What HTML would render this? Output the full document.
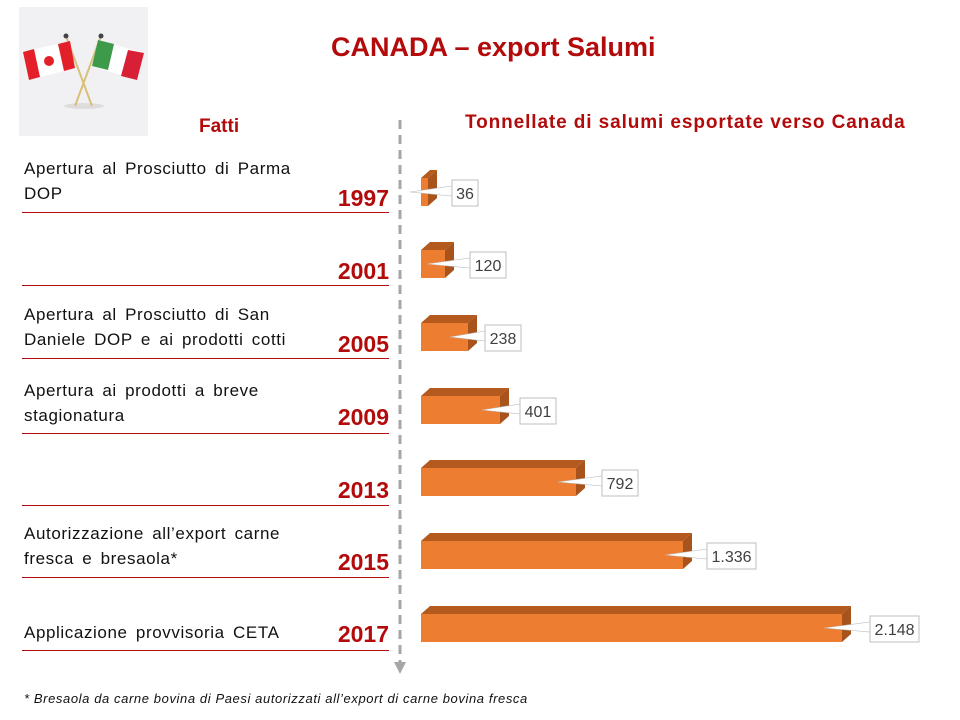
<!DOCTYPE html>
<html><head><meta charset="utf-8"><style>
body{margin:0;width:960px;height:720px;background:#fff;position:relative;overflow:hidden;font-family:"Liberation Sans",sans-serif}
.a{position:absolute;white-space:nowrap}
.t{font-size:17px;color:#111;line-height:25px;letter-spacing:0.6px;word-spacing:3px}
.y{font-size:23px;font-weight:bold;color:#b30b0b;text-align:right;width:100px;left:289px}
.ln{position:absolute;left:22px;width:367px;height:1px;background:#b30b0b}
</style></head><body>
<svg class="a" style="left:0;top:0" width="960" height="720">
<rect x="19" y="7" width="129" height="129" fill="#f1f1f3"/>
<ellipse cx="84" cy="106" rx="20" ry="3" fill="#ddd"/>
<line x1="66" y1="36" x2="92" y2="106" stroke="#d8c07a" stroke-width="2"/>
<line x1="101" y1="36" x2="75" y2="106" stroke="#d8c07a" stroke-width="2"/>
<circle cx="66" cy="36" r="2.5" fill="#444"/><circle cx="101" cy="36" r="2.5" fill="#444"/>
<polygon points="23,52 70,41 75,68 29,80" fill="#fff"/>
<polygon points="23,52 34,49 40,77 29,80" fill="#e3202a"/>
<polygon points="58,44 70,41 75,68 64,71" fill="#e3202a"/>
<circle cx="49" cy="61" r="5" fill="#e3202a"/>
<polygon points="92,66 98,40 144,53 137,80" fill="#fff"/>
<polygon points="92,66 98,40 114,44 108,70" fill="#3c9a4a"/>
<polygon points="128,50 144,53 137,80 121,76" fill="#d81f36"/>
<line x1="400" y1="120" x2="400" y2="662" stroke="#a6a6a6" stroke-width="3" stroke-dasharray="9,6"/>
<polygon points="394,662 406,662 400,674" fill="#a6a6a6"/>
<g id="bars"></g>
</svg>
<div class="a" style="left:331px;top:32px;font-size:27px;font-weight:bold;color:#b30b0b">CANADA – export Salumi</div>
<div class="a" style="left:199px;top:116px;font-size:19px;font-weight:bold;color:#b30b0b">Fatti</div>
<div class="a" style="left:465px;top:112px;font-size:19px;font-weight:bold;color:#b30b0b;letter-spacing:0.9px">Tonnellate di salumi esportate verso Canada</div>
<div class="a t" style="left:24px;top:156px">Apertura al Prosciutto di Parma<br>DOP</div>
<div class="a t" style="left:24px;top:302px">Apertura al Prosciutto di San<br>Daniele DOP e ai prodotti cotti</div>
<div class="a t" style="left:24px;top:378px">Apertura ai prodotti a breve<br>stagionatura</div>
<div class="a t" style="left:24px;top:521px">Autorizzazione all’export carne<br>fresca e bresaola*</div>
<div class="a t" style="left:24px;top:620px">Applicazione provvisoria CETA</div>
<div class="a y" style="top:185px">1997</div><div class="ln" style="top:212px"></div>
<div class="a y" style="top:258px">2001</div><div class="ln" style="top:285px"></div>
<div class="a y" style="top:331px">2005</div><div class="ln" style="top:358px"></div>
<div class="a y" style="top:404px">2009</div><div class="ln" style="top:433px"></div>
<div class="a y" style="top:477px">2013</div><div class="ln" style="top:505px"></div>
<div class="a y" style="top:549px">2015</div><div class="ln" style="top:577px"></div>
<div class="a y" style="top:621px">2017</div><div class="ln" style="top:650px"></div>
<div class="a" style="left:24px;top:691px;font-size:13px;font-style:italic;color:#111;letter-spacing:0.6px">* Bresaola da carne bovina di Paesi autorizzati all’export di carne bovina fresca</div>
<script>
var d=[[7,178,"36",452,26],[24,250,"120",470,36],[47,323,"238",485,36],[79,396,"401",520,36],[155,468,"792",602,36],[262,541,"1.336",707,49],[421,614,"2.148",870,49]];
var s='';
d.forEach(function(b){var x=421,y=b[1],w=b[0],h=28,dx=9,dy=8;
s+='<polygon points="'+x+','+y+' '+(x+dx)+','+(y-dy)+' '+(x+w+dx)+','+(y-dy)+' '+(x+w)+','+y+'" fill="#b45a1e"/>';
s+='<polygon points="'+(x+w)+','+y+' '+(x+w+dx)+','+(y-dy)+' '+(x+w+dx)+','+(y+h-dy)+' '+(x+w)+','+(y+h)+'" fill="#a8531c"/>';
s+='<rect x="'+x+'" y="'+y+'" width="'+w+'" height="'+h+'" fill="#ed7d31"/>';
var bx=b[3],by=y+2,cy=y+h/2;
s+='<polygon points="'+(x+w-18)+','+cy+' '+bx+','+(by+6)+' '+bx+','+(by+16)+'" fill="#fff" stroke="#bbb" stroke-width="0.6"/>';
s+='<rect x="'+bx+'" y="'+by+'" width="'+b[4]+'" height="26" fill="#fff" stroke="#bfbfbf"/>';
s+='<text x="'+(bx+b[4]/2)+'" y="'+(by+19)+'" font-size="16" fill="#404040" text-anchor="middle" font-family="Liberation Sans">'+b[2]+'</text>';});
document.getElementById('bars').innerHTML=s;
</script>
</body></html>
